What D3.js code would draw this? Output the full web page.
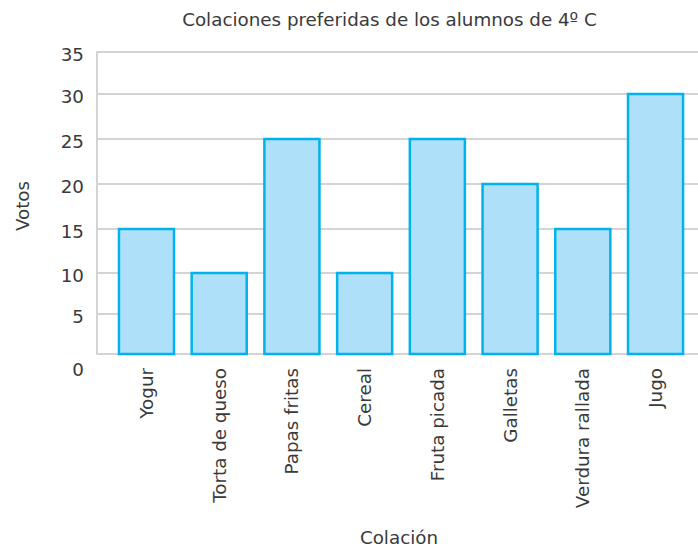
<!DOCTYPE html>
<html>
<head>
<meta charset="utf-8">
<script src="https://cdn.jsdelivr.net/npm/d3@7"></script>
<style>
  html, body { margin: 0; padding: 0; background: #fff; }
  svg { display: block; font-family: "DejaVu Sans", sans-serif; }
</style>
</head>
<body>
<svg id="chart" width="698" height="548"></svg>
<script>
const categories = ["Yogur", "Torta de queso", "Papas fritas", "Cereal", "Fruta picada", "Galletas", "Verdura rallada", "Jugo"];
const votes = [15, 10, 25, 10, 25, 20, 15, 30];
const yTicks = [0, 5, 10, 15, 20, 25, 30, 35];
const title = "Colaciones preferidas de los alumnos de 4º C";
const xTitle = "Colación";
const yTitle = "Votos";

const svg = d3.select("#chart");
const textColor = "#3a3a3a";
const fs = 18.3;

// piecewise linear scale reproducing the slightly uneven spacing of the original
const y = d3.scaleLinear()
  .domain(yTicks)
  .range([354, 314, 273, 229, 184, 139, 94, 52]);

const x = d3.scaleBand()
  .domain(categories)
  .range([101.5, 700.5])
  .paddingInner(0.243)
  .paddingOuter(0.24);

// gridlines
svg.append("g").selectAll("line")
  .data(yTicks)
  .join("line")
  .attr("x1", 97).attr("x2", 698)
  .attr("y1", d => y(d)).attr("y2", d => y(d))
  .attr("stroke", "#d4d4d6").attr("stroke-width", 2);

// y axis line
svg.append("line")
  .attr("x1", 97).attr("x2", 97)
  .attr("y1", y(35) - 1).attr("y2", y(0) + 1)
  .attr("stroke", "#d4d4d6").attr("stroke-width", 2);

// y tick labels
svg.append("g").selectAll("text")
  .data(yTicks)
  .join("text")
  .attr("x", 84)
  .attr("y", d => y(d) + (d === 0 ? 15 : 2))
  .attr("text-anchor", "end")
  .attr("dominant-baseline", "central")
  .attr("font-size", fs)
  .attr("fill", textColor)
  .text(d => d);

// bars
svg.append("g").selectAll("rect")
  .data(categories)
  .join("rect")
  .attr("x", d => x(d))
  .attr("width", x.bandwidth())
  .attr("y", (d, i) => y(votes[i]))
  .attr("height", (d, i) => y(0) - y(votes[i]))
  .attr("fill", "#aee0f9")
  .attr("stroke", "#00b3ec")
  .attr("stroke-width", 2.5);

// x labels
svg.append("g").selectAll("text")
  .data(categories)
  .join("text")
  .attr("transform", d => `translate(${x(d) + x.bandwidth() / 2},368) rotate(-90)`)
  .attr("text-anchor", "end")
  .attr("dominant-baseline", "central")
  .attr("font-size", fs)
  .attr("fill", textColor)
  .text(d => d);

// title
svg.append("text")
  .attr("x", 389.5).attr("y", 19)
  .attr("text-anchor", "middle")
  .attr("dominant-baseline", "central")
  .attr("font-size", fs)
  .attr("fill", textColor)
  .text(title);

// axis titles
svg.append("text")
  .attr("x", 399).attr("y", 537)
  .attr("text-anchor", "middle")
  .attr("dominant-baseline", "central")
  .attr("font-size", fs)
  .attr("fill", textColor)
  .text(xTitle);

svg.append("text")
  .attr("transform", "translate(22,206) rotate(-90)")
  .attr("text-anchor", "middle")
  .attr("dominant-baseline", "central")
  .attr("font-size", fs)
  .attr("fill", textColor)
  .text(yTitle);
</script>
</body>
</html>
